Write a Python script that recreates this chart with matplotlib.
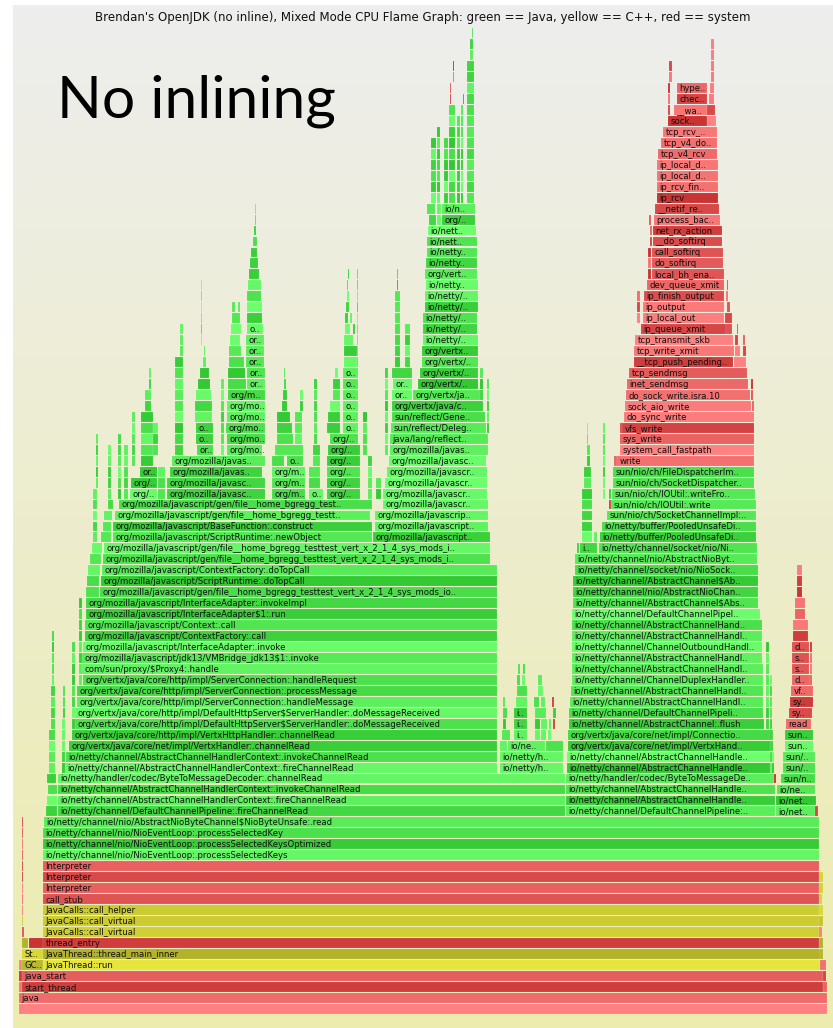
import zlib
import numpy as np
import matplotlib
matplotlib.use("Agg")
import matplotlib.pyplot as plt

TITLE = ("Brendan's OpenJDK (no inline), Mixed Mode CPU Flame Graph: "
         "green == Java, yellow == C++, red == system")
CALLOUT = "No inlining"

# frames: (depth, first sample, last sample, name, kind)
# kind: j = Java (green), c = C++ (yellow), s = system (red)
BASE_FRAMES = [
    (0, 19, 827, "", "s"),
    (1, 19, 827, "java", "s"),
    (2, 19, 22, "", "s"), (2, 22, 823, "start_thread", "s"), (2, 823, 827, "", "s"),
    (3, 19, 22, "", "s"), (3, 22, 823, "java_start", "s"), (3, 823, 826, "", "s"),
    (4, 19, 22, "", "s"), (4, 22, 43, "GC..", "c"), (4, 43, 820, "JavaThread::run", "c"),
    (4, 820, 826, "", "s"),
    (5, 22, 43, "St..", "c"), (5, 43, 820, "JavaThread::thread_main_inner", "c"),
    (5, 820, 823, "", "c"),
    (6, 22, 28, "", "c"), (6, 29, 43, "", "s"), (6, 43, 819, "thread_entry", "s"),
    (6, 819, 823, "", "c"),
    (7, 22, 24, "", "s"), (7, 43, 819, "JavaCalls::call_virtual", "c"), (7, 819, 822, "", "s"),
    (8, 22, 23, "", "c"), (8, 43, 819, "JavaCalls::call_virtual", "c"), (8, 819, 823, "", "c"),
    (9, 43, 819, "JavaCalls::call_helper", "c"), (9, 819, 823, "", "c"),
    (10, 43, 819, "call_stub", "s"), (10, 819, 822, "", "c"),
    (11, 43, 819, "Interpreter", "s"), (11, 819, 823, "", "c"),
    (12, 43, 819, "Interpreter", "s"), (12, 819, 823, "", "c"),
    (13, 43, 819, "Interpreter", "s"),
    (14, 43, 819, "io/netty/channel/nio/NioEventLoop:.processSelectedKeys", "j"),
    (15, 43, 819, "io/netty/channel/nio/NioEventLoop:.processSelectedKeysOptimized", "j"),
    (16, 43, 819, "io/netty/channel/nio/NioEventLoop:.processSelectedKey", "j"),
    (17, 44, 819, "io/netty/channel/nio/AbstractNioByteChannel$NioByteUnsafe:.read", "j"),
]

READ_FRAMES = [
    (18, 46, 57, "", "j"),
    (18, 58, 565, "io/netty/channel/DefaultChannelPipeline:.fireChannelRead", "j"),
    (19, 47, 57, "", "j"),
    (19, 58, 565, "io/netty/channel/AbstractChannelHandlerContext:.fireChannelRead", "j"),
    (20, 48, 57, "", "j"),
    (20, 58, 565, "io/netty/channel/AbstractChannelHandlerContext:.invokeChannelRead", "j"),
    (21, 47, 56, "", "j"),
    (21, 58, 565, "io/netty/handler/codec/ByteToMessageDecoder:.channelRead", "j"),
    (22, 65, 497, "io/netty/channel/AbstractChannelHandlerContext:.fireChannelRead", "j"),
    (22, 500, 563, "io/netty/h..", "j"),
    (23, 66, 497, "io/netty/channel/AbstractChannelHandlerContext:.invokeChannelRead", "j"),
    (23, 500, 563, "io/netty/h..", "j"),
    (24, 69, 497, "org/vertx/java/core/net/impl/VertxHandler:.channelRead", "j"),
    (25, 72, 497, "org/vertx/java/core/http/impl/VertxHttpHandler:.channelRead", "j"),
    (26, 75, 497, "org/vertx/java/core/http/impl/DefaultHttpServer$ServerHandler:.doMessageReceived", "j"),
    (27, 75, 497, "org/vertx/java/core/http/impl/DefaultHttpServer$ServerHandler:.doMessageReceived", "j"),
    (28, 77, 497, "org/vertx/java/core/http/impl/ServerConnection:.handleMessage", "j"),
    (29, 77, 497, "org/vertx/java/core/http/impl/ServerConnection:.processMessage", "j"),
    (30, 83, 497, "org/vertx/java/core/http/impl/ServerConnection:.handleRequest", "j"),
    (31, 82, 497, "com/sun/proxy/$Proxy4:.handle", "j"),
    (32, 82, 497, "org/mozilla/javascript/jdk13/VMBridge_jdk13$1:.invoke", "j"),
    (33, 83, 497, "org/mozilla/javascript/InterfaceAdapter:.invoke", "j"),
    (34, 85, 497, "org/mozilla/javascript/ContextFactory:.call", "j"),
    (35, 85, 497, "org/mozilla/javascript/Context:.call", "j"),
    (36, 86, 497, "org/mozilla/javascript/InterfaceAdapter$1:.run", "j"),
    (37, 86, 497, "org/mozilla/javascript/InterfaceAdapter:.invokeImpl", "j"),
    (38, 86, 99, "", "j"),
    (38, 100, 497, "org/mozilla/javascript/gen/file__home_bgregg_testtest_vert_x_2_1_4_sys_mods_io..", "j"),
    (39, 87, 99, "", "j"),
    (39, 101, 497, "org/mozilla/javascript/ScriptRuntime:.doTopCall", "j"),
    (40, 88, 100, "", "j"),
    (40, 102, 497, "org/mozilla/javascript/ContextFactory:.doTopCall", "j"),
    (41, 90, 101, "", "j"),
    (41, 103, 490, "org/mozilla/javascript/gen/file__home_bgregg_testtest_vert_x_2_1_4_sys_mods_i..", "j"),
    (42, 92, 102, "", "j"),
    (42, 104, 490, "org/mozilla/javascript/gen/file__home_bgregg_testtest_vert_x_2_1_4_sys_mods_i..", "j"),
    (43, 101, 111, "", "j"),
    (43, 113, 372, "org/mozilla/javascript/ScriptRuntime:.newObject", "j"),
    (43, 373, 490, "org/mozilla/javascript..", "j"),
    (44, 103, 111, "", "j"),
    (44, 113, 372, "org/mozilla/javascript/BaseFunction:.construct", "j"),
    (44, 375, 488, "org/mozilla/javascript..", "j"),
    (45, 104, 112, "", "j"),
    (45, 115, 370, "org/mozilla/javascript/gen/file__home_bgregg_testt..", "j"),
    (45, 375, 488, "org/mozilla/javascrip..", "j"),
    (46, 108, 113, "", "j"),
    (46, 119, 372, "org/mozilla/javascript/gen/file__home_bgregg_test..", "j"),
    (46, 383, 488, "org/mozilla/javascr..", "j"),
]

JS_FRAMES = [
    (47, 130, 157, "org/..", "j"), (47, 167, 265, "org/mozilla/javasc..", "j"),
    (47, 272, 305, "org/m..", "j"), (47, 309, 323, "o..", "j"), (47, 327, 360, "org/..", "j"),
    (47, 383, 487, "org/mozilla/javascr..", "j"),
    (48, 131, 157, "org/..", "j"), (48, 167, 265, "org/mozilla/javasc..", "j"),
    (48, 272, 305, "org/m..", "j"), (48, 327, 360, "org/..", "j"),
    (48, 385, 487, "org/mozilla/javascr..", "j"),
    (49, 140, 157, "or..", "j"), (49, 170, 262, "org/mozilla/javas..", "j"),
    (49, 272, 305, "org/m..", "j"), (49, 327, 360, "org/..", "j"),
    (49, 387, 487, "org/mozilla/javascr..", "j"),
    (50, 172, 265, "org/mozilla/javas..", "j"), (50, 272, 284, "", "j"),
    (50, 287, 303, "o..", "j"), (50, 327, 360, "org/..", "j"),
    (50, 389, 486, "org/mozilla/javasc..", "j"),
    (51, 197, 213, "or..", "j"), (51, 227, 262, "org/mo..", "j"), (51, 275, 303, "", "j"),
    (51, 328, 360, "org/..", "j"), (51, 390, 488, "org/mozilla/javas..", "j"),
    (52, 196, 213, "o..", "j"), (52, 227, 265, "org/mo..", "j"), (52, 277, 293, "", "j"),
    (52, 330, 358, "org/..", "j"), (52, 390, 488, "java/lang/reflect..", "j"),
    (53, 196, 213, "o..", "j"), (53, 226, 265, "org/mo..", "j"), (53, 277, 292, "", "j"),
    (53, 327, 340, "", "j"), (53, 343, 358, "o..", "j"),
    (53, 391, 486, "sun/reflect/Deleg..", "j"),
    (54, 227, 265, "org/mo..", "j"), (54, 277, 290, "", "j"), (54, 328, 340, "", "j"),
    (54, 343, 358, "o..", "j"), (54, 392, 485, "sun/reflect/Gene..", "j"),
    (55, 227, 265, "org/mo..", "j"), (55, 282, 287, "", "j"), (55, 330, 340, "", "j"),
    (55, 343, 358, "o..", "j"), (55, 392, 483, "org/vertx/java/c..", "j"),
    (56, 228, 265, "org/m..", "j"), (56, 283, 287, "", "j"), (56, 333, 340, "", "j"),
    (56, 343, 358, "o..", "j"), (56, 392, 412, "or..", "j"), (56, 413, 482, "org/vertx/ja..", "j"),
    (57, 228, 246, "", "j"), (57, 247, 265, "or..", "j"), (57, 333, 340, "", "j"),
    (57, 343, 358, "o..", "j"), (57, 393, 412, "or..", "j"), (57, 418, 478, "org/vertx/..", "j"),
    (58, 228, 245, "", "j"), (58, 247, 265, "or..", "j"), (58, 335, 338, "", "j"),
    (58, 343, 358, "o..", "j"), (58, 392, 412, "", "j"), (58, 420, 478, "org/vertx/..", "j"),
    (59, 229, 244, "", "j"), (59, 246, 264, "or..", "j"), (59, 344, 357, "", "j"),
    (59, 422, 478, "org/vertx/..", "j"),
    (60, 229, 241, "", "j"), (60, 246, 264, "or..", "j"), (60, 344, 357, "", "j"),
    (60, 422, 478, "org/vertx..", "j"),
    (61, 230, 240, "", "j"), (61, 246, 264, "or..", "j"), (61, 344, 353, "", "j"),
    (61, 423, 478, "io/netty/..", "j"),
    (62, 231, 241, "", "j"), (62, 247, 263, "o..", "j"), (62, 345, 350, "", "j"),
    (62, 353, 355, "", "j"), (62, 423, 477, "io/netty/..", "j"),
    (63, 232, 240, "", "j"), (63, 247, 262, "", "j"), (63, 345, 348, "", "j"),
    (63, 350, 352, "", "j"), (63, 423, 477, "io/netty/..", "j"),
    (64, 232, 235, "", "j"), (64, 238, 240, "", "j"), (64, 247, 262, "", "j"),
    (64, 346, 349, "", "j"), (64, 425, 478, "io/netty/..", "j"),
    (65, 247, 261, "", "j"), (65, 347, 349, "", "j"), (65, 425, 478, "io/netty/..", "j"),
    (66, 248, 261, "", "j"), (66, 426, 478, "io/netty..", "j"),
    (67, 249, 259, "", "j"), (67, 425, 477, "org/vert..", "j"),
    (68, 250, 258, "", "j"), (68, 426, 477, "io/netty..", "j"),
    (69, 251, 257, "", "j"), (69, 427, 477, "io/netty..", "j"),
    (70, 253, 257, "", "j"), (70, 427, 477, "io/nett..", "j"),
    (71, 254, 256, "", "j"), (71, 428, 476, "io/nett..", "j"),
    (72, 429, 436, "", "j"), (72, 437, 441, "", "j"), (72, 442, 475, "org/..", "j"),
    (73, 427, 435, "", "j"), (73, 437, 441, "", "j"), (73, 442, 475, "io/n..", "j"),
]

MIDDLE_FRAMES = [
    (24, 500, 507, "", "j"), (24, 508, 545, "io/ne..", "j"), (24, 546, 563, "", "j"),
    (25, 502, 510, "", "j"), (25, 514, 527, "i..", "j"), (25, 535, 540, "", "j"),
    (25, 541, 546, "", "j"), (25, 548, 551, "", "j"),
    (26, 503, 506, "", "j"), (26, 514, 527, "i..", "j"), (26, 535, 540, "", "j"),
    (26, 541, 547, "", "j"), (26, 549, 551, "", "j"), (26, 553, 555, "", "s"),
    (27, 503, 507, "", "j"), (27, 514, 527, "i..", "j"), (27, 535, 546, "", "j"),
    (27, 553, 556, "", "j"),
    (28, 503, 505, "", "j"), (28, 516, 527, "", "j"), (28, 534, 539, "", "j"),
    (28, 541, 545, "", "j"), (28, 552, 554, "", "s"),
    (29, 517, 527, "", "j"), (29, 538, 543, "", "j"),
    (30, 517, 520, "", "j"), (30, 522, 525, "", "j"), (30, 538, 542, "", "j"),
    (31, 518, 520, "", "j"), (31, 523, 525, "", "j"),
]

WRITE_FRAMES = [
    (18, 566, 775, "io/netty/channel/DefaultChannelPipeline:..", "j"),
    (18, 776, 815, "io/net..", "j"), (18, 815, 818, "", "s"),
    (19, 566, 775, "io/netty/channel/AbstractChannelHandle..", "j"), (19, 776, 816, "io/net..", "j"),
    (20, 566, 775, "io/netty/channel/AbstractChannelHandle..", "j"), (20, 777, 815, "io/ne..", "j"),
    (21, 566, 774, "io/netty/handler/codec/ByteToMessageDe..", "j"),
    (21, 774, 776, "", "s"), (21, 781, 815, "sun/n..", "j"),
    (22, 567, 774, "io/netty/channel/AbstractChannelHandle..", "j"), (22, 783, 815, "sun/..", "j"),
    (23, 567, 774, "io/netty/channel/AbstractChannelHandle..", "j"), (23, 783, 815, "sun/..", "j"),
    (24, 568, 773, "org/vertx/java/core/net/impl/VertxHand..", "j"), (24, 785, 813, "sun..", "j"),
    (25, 568, 773, "org/vertx/java/core/net/impl/Connectio..", "j"), (25, 785, 813, "sun..", "j"),
    (26, 569, 764, "io/netty/channel/AbstractChannel:.flush", "j"), (26, 786, 811, "read", "s"),
    (27, 569, 763, "io/netty/channel/DefaultChannelPipeli..", "j"), (27, 789, 812, "sy..", "s"),
    (28, 570, 763, "io/netty/channel/AbstractChannelHandl..", "j"), (28, 790, 813, "sy..", "s"),
    (29, 571, 763, "io/netty/channel/AbstractChannelHandl..", "j"), (29, 791, 813, "vf..", "s"),
    (30, 572, 763, "io/netty/channel/ChannelDuplexHandler..", "j"), (30, 792, 810, "d..", "s"),
    (31, 572, 763, "io/netty/channel/AbstractChannelHandl..", "j"), (31, 792, 809, "s..", "s"),
    (32, 572, 762, "io/netty/channel/AbstractChannelHandl..", "j"), (32, 792, 809, "s..", "s"),
    (33, 572, 762, "io/netty/channel/ChannelOutboundHandl..", "j"), (33, 792, 809, "d..", "s"),
    (34, 572, 762, "io/netty/channel/AbstractChannelHandl..", "j"),
    (35, 572, 762, "io/netty/channel/AbstractChannelHand..", "j"),
    (36, 572, 760, "io/netty/channel/DefaultChannelPipel..", "j"),
    (37, 573, 758, "io/netty/channel/AbstractChannel$Abs..", "j"),
    (38, 573, 758, "io/netty/channel/nio/AbstractNioChan..", "j"),
    (39, 573, 758, "io/netty/channel/AbstractChannel$Ab..", "j"),
    (40, 575, 758, "io/netty/channel/socket/nio/NioSock..", "j"),
    (41, 575, 757, "io/netty/channel/nio/AbstractNioByt..", "j"),
    (42, 577, 579, "", "j"), (42, 580, 597, "i..", "j"),
    (42, 599, 757, "io/netty/channel/socket/nio/Ni..", "j"),
    (43, 600, 756, "io/netty/buffer/PooledUnsafeDi..", "j"),
    (44, 602, 756, "io/netty/buffer/PooledUnsafeDi..", "j"),
    (45, 607, 756, "sun/nio/ch/SocketChannelImpl:..", "j"),
    (46, 609, 611, "", "s"), (46, 611, 756, "sun/nio/ch/IOUtil:.write", "j"),
    (47, 609, 611, "", "j"), (47, 612, 755, "sun/nio/ch/IOUtil:.writeFro..", "j"),
    (48, 613, 754, "sun/nio/ch/SocketDispatcher..", "j"),
    (49, 613, 754, "sun/nio/ch/FileDispatcherIm..", "j"),
    (50, 614, 617, "", "s"), (50, 617, 754, "write", "s"),
]

KERNEL_FRAMES = [
    (51, 620, 754, "system_call_fastpath", "s"),
    (52, 620, 754, "sys_write", "s"),
    (53, 620, 622, "", "s"), (53, 622, 754, "vfs_write", "s"),
    (54, 624, 754, "do_sync_write", "s"),
    (55, 625, 751, "sock_aio_write", "s"), (55, 752, 754, "", "s"),
    (56, 626, 750, "do_sock_write.isra.10", "s"), (56, 751, 753, "", "s"),
    (57, 627, 748, "inet_sendmsg", "s"), (57, 751, 753, "", "s"),
    (58, 629, 747, "tcp_sendmsg", "s"),
    (59, 634, 733, "__tcp_push_pending..", "s"), (59, 734, 746, "", "s"),
    (60, 634, 734, "tcp_write_xmit", "s"), (60, 735, 740, "", "s"), (60, 743, 746, "", "s"),
    (61, 635, 733, "tcp_transmit_skb", "s"), (61, 735, 738, "", "s"), (61, 743, 745, "", "s"),
    (62, 641, 726, "ip_queue_xmit", "s"), (62, 726, 732, "", "s"), (62, 737, 738, "", "s"),
    (63, 643, 724, "ip_local_out", "s"), (63, 725, 732, "", "s"),
    (64, 643, 724, "ip_output", "s"), (64, 727, 730, "", "s"),
    (65, 644, 724, "ip_finish_output", "s"), (65, 726, 728, "", "s"),
    (66, 647, 724, "dev_queue_xmit", "s"), (66, 727, 728, "", "s"),
    (67, 648, 651, "", "s"), (67, 652, 724, "local_bh_ena..", "s"),
    (68, 648, 651, "", "s"), (68, 652, 723, "do_softirq", "s"),
    (69, 648, 651, "", "s"), (69, 652, 723, "call_softirq", "s"),
    (70, 650, 652, "", "s"), (70, 653, 722, "__do_softirq", "s"),
    (71, 650, 652, "", "s"), (71, 653, 722, "net_rx_action", "s"),
    (72, 649, 651, "", "s"), (72, 654, 720, "process_bac..", "s"),
    (73, 655, 719, "__netif_re..", "s"),
    (74, 657, 718, "ip_rcv", "s"),
    (75, 657, 718, "ip_rcv_fin..", "s"),
    (76, 657, 718, "ip_local_d..", "s"),
    (77, 657, 718, "ip_local_d..", "s"),
    (78, 658, 717, "tcp_v4_rcv", "s"),
    (79, 661, 717, "tcp_v4_do..", "s"),
    (80, 663, 717, "tcp_rcv_..", "s"),
    (81, 668, 707, "sock..", "s"), (81, 707, 716, "", "s"),
    (82, 668, 670, "", "s"), (82, 674, 707, "__wa..", "s"), (82, 707, 715, "", "s"),
    (83, 668, 670, "", "s"), (83, 677, 707, "chec..", "s"), (83, 709, 714, "", "s"),
    (84, 668, 670, "", "s"), (84, 677, 707, "hype..", "s"), (84, 710, 714, "", "s"),
]

# narrow unlabeled towers: (first sample, last sample, lowest depth, highest depth, kind)
SLIVERS = [
    (22, 23, 9, 17, "s"),
    (49, 55, 22, 25, "j"), (51, 55, 26, 29, "j"), (52, 54, 30, 34, "j"),
    (62, 65, 22, 26, "j"), (63, 65, 27, 29, "j"), (72, 75, 26, 33, "j"),
    (79, 82, 30, 37, "j"),
    (93, 97, 43, 47, "j"), (96, 98, 48, 52, "j"), (108, 111, 47, 51, "j"),
    (118, 121, 47, 52, "j"), (124, 128, 47, 51, "j"), (132, 135, 50, 54, "j"),
    (141, 153, 50, 54, "j"), (145, 151, 55, 56, "j"), (149, 151, 57, 58, "j"),
    (153, 158, 51, 53, "j"), (158, 165, 47, 49, "j"), (175, 183, 51, 59, "j"),
    (180, 183, 60, 62, "j"),
    (195, 212, 54, 55, "j"), (196, 211, 56, 56, "j"), (198, 210, 57, 57, "j"),
    (200, 209, 58, 58, "j"), (203, 206, 59, 59, "j"), (204, 205, 60, 60, "j"),
    (201, 202, 61, 66, "c"), (221, 224, 51, 57, "j"), (255, 256, 72, 73, "j"),
    (295, 302, 52, 54, "j"), (300, 303, 55, 56, "j"), (284, 286, 57, 57, "j"),
    (284, 285, 58, 58, "j"), (309, 320, 48, 49, "j"), (313, 320, 50, 51, "j"),
    (314, 317, 52, 57, "j"),
    (347, 348, 66, 66, "j"), (348, 349, 67, 67, "j"), (357, 358, 59, 67, "j"),
    (363, 367, 51, 54, "j"), (368, 372, 47, 50, "j"), (376, 381, 47, 48, "j"),
    (385, 388, 51, 58, "j"),
    (395, 400, 59, 65, "j"), (405, 410, 59, 62, "j"), (397, 398, 66, 67, "s"),
    (480, 483, 56, 58, "j"), (487, 489, 53, 57, "j"),
    (431, 436, 74, 79, "j"), (437, 440, 74, 80, "j"), (444, 448, 74, 79, "j"),
    (449, 455, 74, 82, "j"), (457, 460, 74, 81, "j"), (461, 463, 74, 82, "j"),
    (467, 474, 74, 86, "j"), (470, 473, 87, 88, "j"), (472, 473, 89, 89, "j"),
    (450, 451, 83, 84, "s"), (463, 464, 83, 83, "s"), (453, 454, 85, 86, "s"),
    (582, 592, 43, 47, "j"), (584, 591, 48, 49, "j"), (587, 590, 50, 51, "j"),
    (587, 588, 52, 53, "j"), (594, 597, 43, 43, "j"), (603, 605, 47, 53, "j"),
    (766, 769, 26, 33, "j"), (770, 772, 22, 30, "j"),
    (793, 808, 34, 35, "s"), (795, 805, 36, 37, "s"), (797, 802, 38, 40, "s"),
    (810, 812, 30, 33, "s"),
    (637, 640, 63, 65, "s"), (669, 672, 85, 86, "s"), (711, 714, 85, 88, "s"),
]

# ---------------------------------------------------------------------------
W, H = 833, 1028
ROW0, PITCH = 1008.7, 10.96   # pixel row of depth 0, row pitch


def depth_of(px):
    return (ROW0 - px) / PITCH


def frame_color(kind, key):
    v = (zlib.crc32(key.encode()) % 1000) / 1000.0
    if kind == "j":
        x = 50 + 60 * v
        return (x / 255, (200 + 55 * v) / 255, x / 255)
    if kind == "c":
        x = 175 + 55 * v
        return (x / 255, x / 255, (40 + 20 * v) / 255)
    x = 50 + 80 * v
    return ((200 + 55 * v) / 255, x / 255, x / 255)


frames = BASE_FRAMES + READ_FRAMES + JS_FRAMES + MIDDLE_FRAMES + WRITE_FRAMES + KERNEL_FRAMES
for s0, s1, d0, d1, kind in SLIVERS:
    for d in range(d0, d1 + 1):
        frames.append((d, s0, s1, "", kind))

fig = plt.figure(figsize=(W / 100, H / 100), dpi=100)
fig.patch.set_facecolor("white")
ax = fig.add_axes([0, 0, 1, 1])
ax.set_xlim(0, W)
ax.set_ylim(depth_of(H), depth_of(0))
ax.axis("off")

# background gradient (#eeeeee -> #eeeeb0)
grad = np.linspace(0, 1, 256)[:, None]
top = np.array([238, 238, 238]) / 255
bot = np.array([236, 236, 174]) / 255
img = top[None, None, :] * (1 - grad[..., None]) + bot[None, None, :] * grad[..., None]
ax.imshow(img, extent=(13, W, depth_of(H), depth_of(5)), aspect="auto", zorder=0)

depths = [f[0] for f in frames]
lefts = [f[1] for f in frames]
widths = [f[2] - f[1] for f in frames]
colors = [frame_color(f[4], f"{f[3]}|{f[1]}|{f[0]}") for f in frames]
bars = ax.barh(depths, widths, left=lefts, height=0.9, color=colors,
               edgecolor=(1, 1, 1, 0.25), linewidth=0.3, zorder=2)

for bar, (d, s0, s1, name, kind) in zip(bars.patches, frames):
    if not name:
        continue
    t = ax.text(s0 + 2.5, d - 0.04, name, fontsize=6.1, color="#111111",
                ha="left", va="center", zorder=3, family="DejaVu Sans")
    t.set_clip_path(bar)

ax.text(423, depth_of(18), TITLE, fontsize=8.5, color="#111111",
        ha="center", va="center", family="DejaVu Sans", zorder=4)
ax.text(57, depth_of(117.5), CALLOUT, fontsize=42.3, color="black",
        ha="left", va="baseline", family="Lato", zorder=4)

fig.savefig("out.png", dpi=100)
